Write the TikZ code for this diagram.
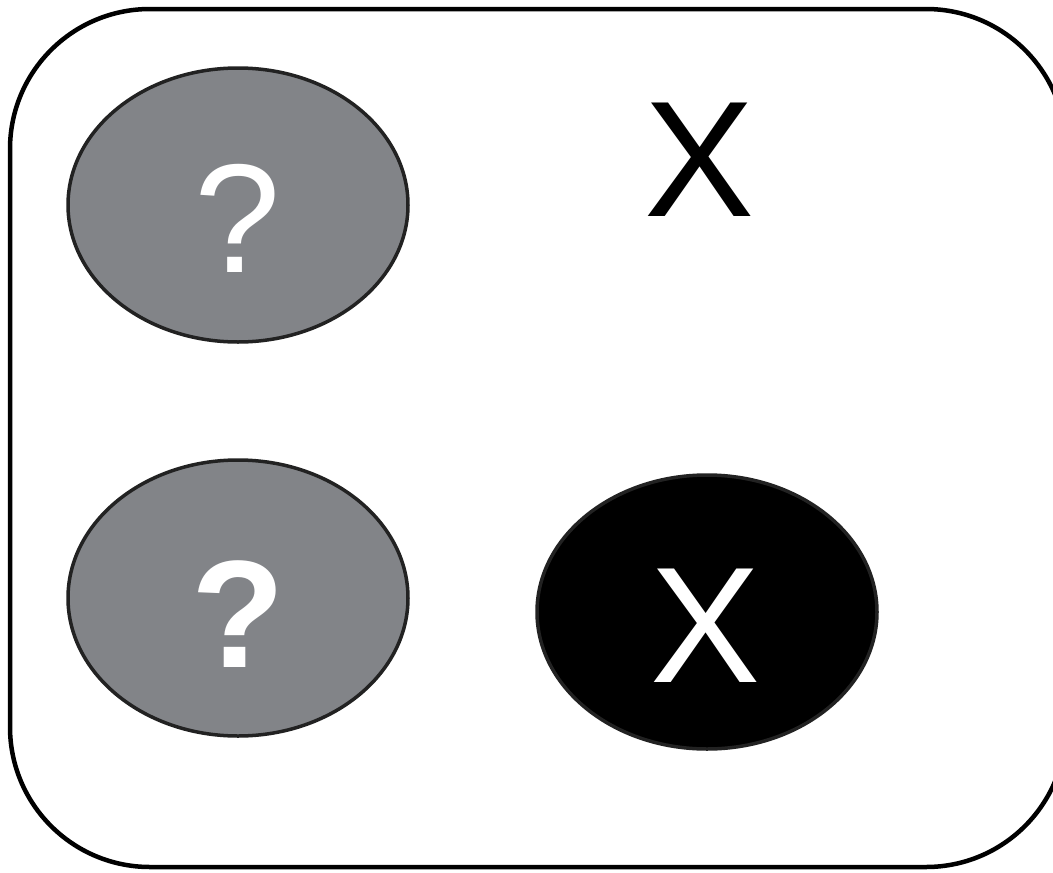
\documentclass[tikz,border=0pt]{standalone}
\usepackage{fontspec}
\setmainfont{Liberation Sans}
\definecolor{qgray}{HTML}{828488}
\definecolor{edgegray}{HTML}{222222}
\begin{document}
\begin{tikzpicture}[x=1pt,y=-1pt,
  oval/.style={draw=edgegray, line width=3.5pt},
  bigtext/.style={font=\fontsize{165}{165}\selectfont, inner sep=0pt, anchor=base},
  qtext/.style={font=\fontsize{155}{155}\selectfont, inner sep=0pt, anchor=base, text=white}]
\useasboundingbox (0,0) rectangle (1053,873);
\draw[line width=4.5pt, rounded corners=140pt] (10,9) rectangle (1066,867);
\draw[oval, fill=qgray] (238,205) ellipse [x radius=170, y radius=137];
\draw[oval, fill=qgray] (238,598) ellipse [x radius=170, y radius=138];
\draw[oval, fill=black] (707,612) ellipse [x radius=170, y radius=137];
\node[qtext] (q1) at (238,272) {?};
\node[qtext, font=\fontsize{153}{153}\selectfont\bfseries] (q2) at (238,667) {?};
\node[bigtext] (x1) at (700,216) {X};
\node[bigtext, text=white] (x2) at (706,682) {X};
\end{tikzpicture}
\end{document}
